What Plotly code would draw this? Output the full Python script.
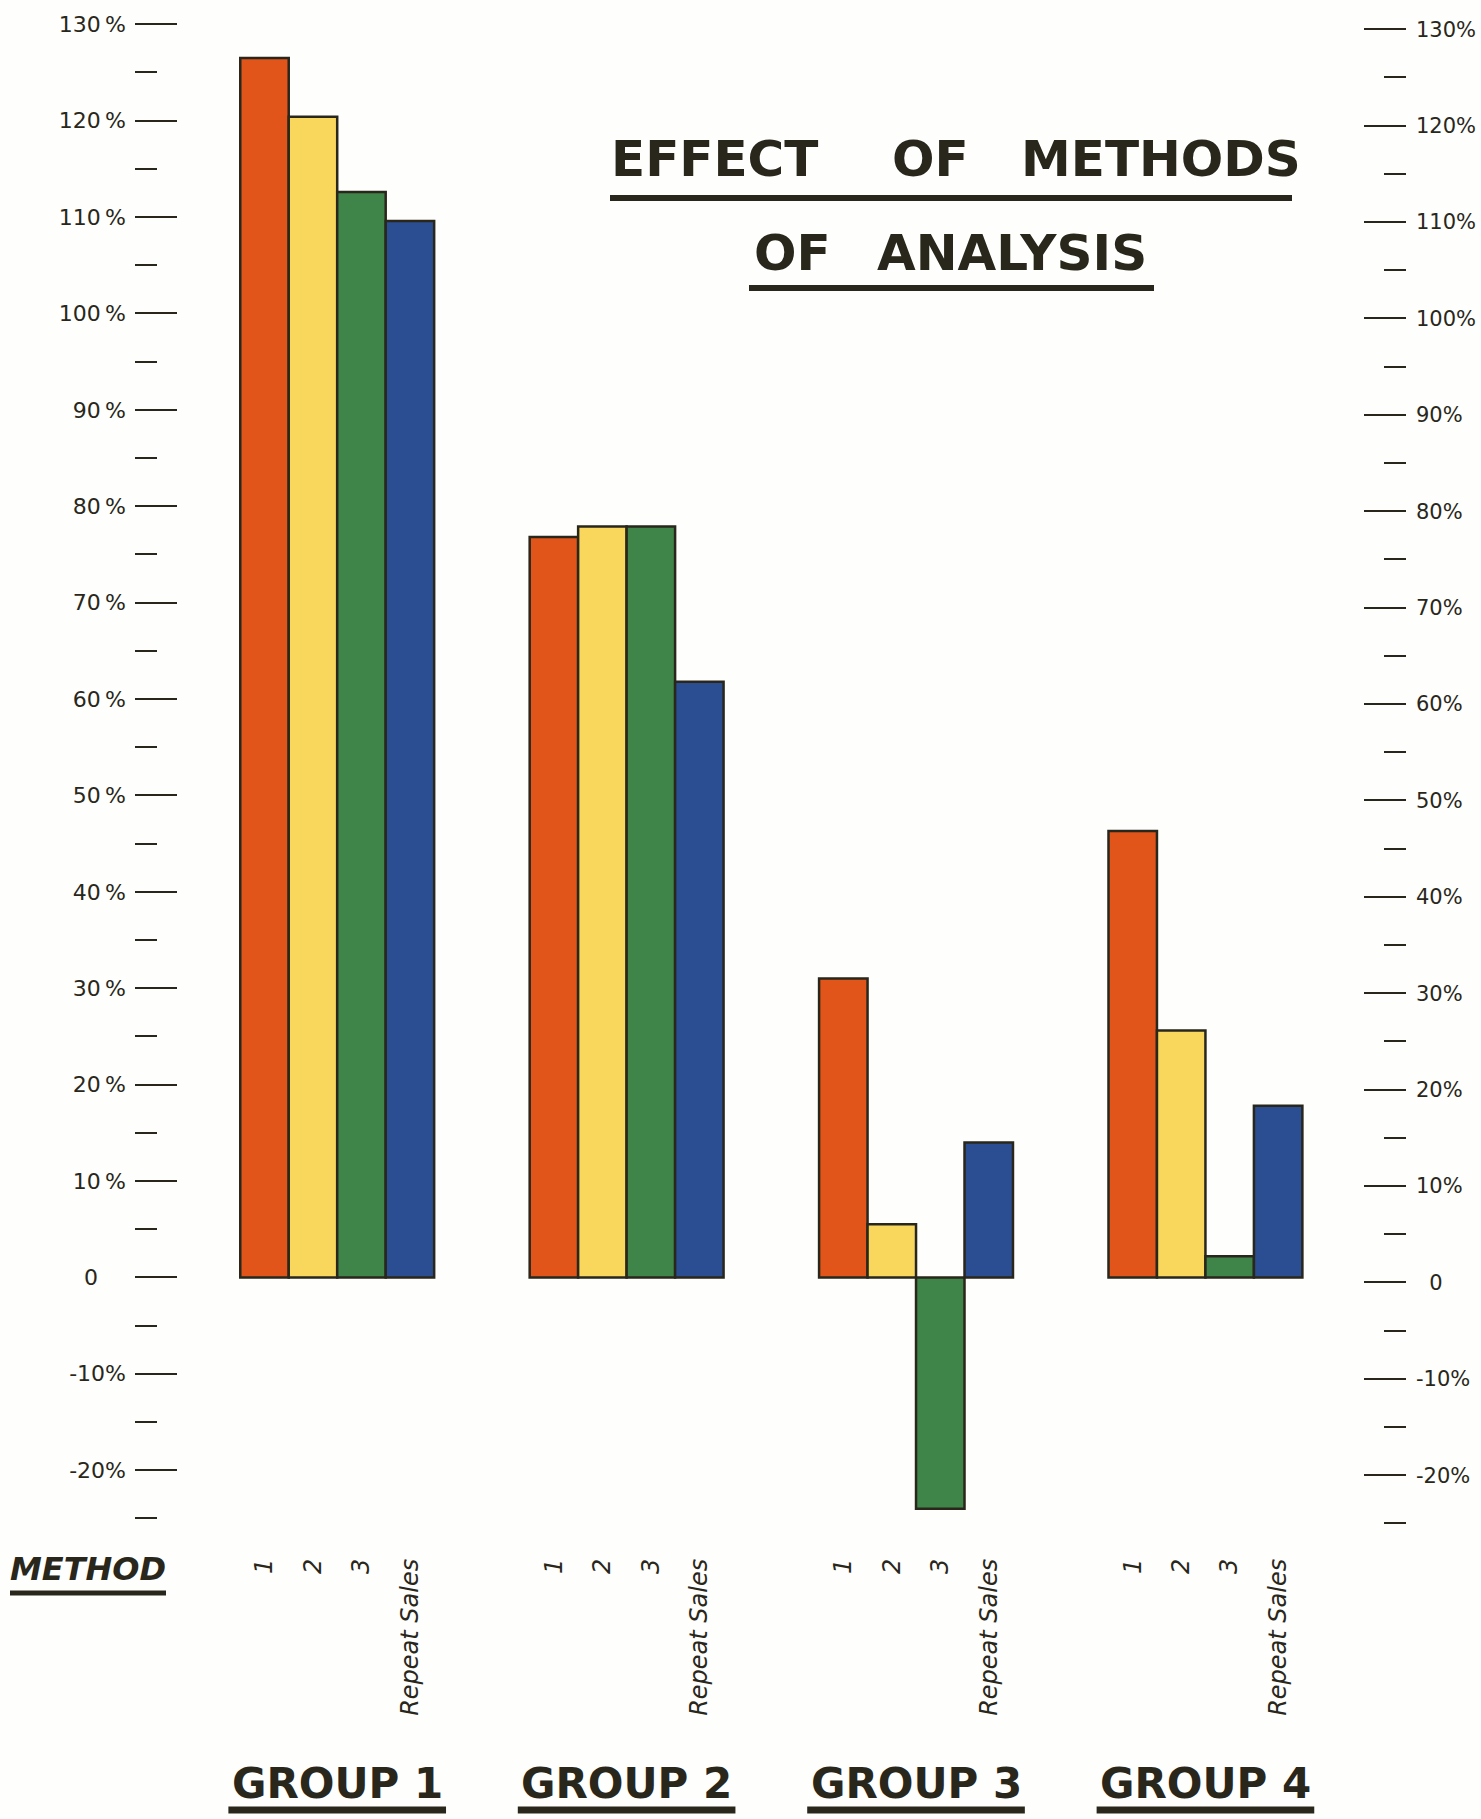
import plotly.graph_objects as go

# ---------------- data ----------------
groups = ["GROUP 1", "GROUP 2", "GROUP 3", "GROUP 4"]
methods = ["1", "2", "3", "Repeat Sales"]
method_1 = [126.5, 76.8, 31.0, 46.3]
method_2 = [120.4, 77.9, 5.5, 25.6]
method_3 = [112.6, 77.9, -24.0, 2.2]
repeat_sales = [109.6, 61.8, 14.0, 17.8]
series = [method_1, method_2, method_3, repeat_sales]
colors = ["#e1541a", "#f8d75c", "#3f8549", "#2b4e93"]

major_ticks = [-20, -10, 0, 10, 20, 30, 40, 50, 60, 70, 80, 90, 100, 110, 120, 130]
left_labels = ["-20%", "-10%", "0\u00a0\u00a0\u00a0\u00a0", "10\u2009%", "20\u2009%", "30\u2009%", "40\u2009%",
               "50\u2009%", "60\u2009%", "70\u2009%", "80\u2009%", "90\u2009%", "100\u2009%",
               "110\u2009%", "120\u2009%", "130\u2009%"]
right_labels = ["-20%", "-10%", "\u00a0\u00a00", "10%", "20%", "30%", "40%", "50%", "60%",
                "70%", "80%", "90%", "100%", "110%", "120%", "130%"]

# ---------------- layout constants ----------------
W, H = 1481, 1819
L, R, T, B = 135, 75, 5, 291
PW, PH = W - L - R, H - T - B
INK = "#29271b"
BG = "#fefefc"
BARGAP = 0.33
FONT = "DejaVu Sans, Verdana, sans-serif"

def xp(px):
    return (px - L) / PW

def yp(py):
    return (H - B - py) / PH

xs = list(range(len(groups)))
bw = (1 - BARGAP) / len(series)
tick_x = [i - (1 - BARGAP) / 2 + bw * (k + 0.5) for i in xs for k in range(len(series))]
tick_t = [methods[k] for i in xs for k in range(len(series))]

fig = go.Figure()
for k, vals in enumerate(series):
    fig.add_trace(go.Bar(
        x=xs, y=vals, name=methods[k],
        marker=dict(color=colors[k], line=dict(color=INK, width=2.5)),
        showlegend=False, hoverinfo="skip"))

# invisible helper trace so the right axis is drawn
fig.add_trace(go.Scatter(x=[0], y=[0], yaxis="y2", mode="markers",
                         marker=dict(opacity=0), showlegend=False, hoverinfo="skip"))

def tickstyle(size):
    return dict(ticks="inside", ticklen=42, tickwidth=2, tickcolor=INK,
                minor=dict(dtick=5, tick0=0, ticks="inside", ticklen=22, tickwidth=2, tickcolor=INK),
                showgrid=False, zeroline=False, showline=False,
                tickmode="array", tickvals=major_ticks,
                tickfont=dict(family=FONT, size=size, color=INK), automargin=False)

fig.update_layout(
    width=W, height=H,
    margin=dict(l=L, r=R, t=T, b=B),
    paper_bgcolor=BG, plot_bgcolor=BG,
    barmode="group", bargap=BARGAP, bargroupgap=0,
    xaxis=dict(range=[-0.6987, 3.693], tickmode="array", tickvals=tick_x, ticktext=tick_t,
               tickangle=-90, ticks="", showgrid=False, zeroline=False, showline=False,
               tickfont=dict(family=FONT, size=24, color=INK, style="italic"),
               ticklabelstandoff=25, automargin=False),
    yaxis=dict(range=[-26, 132], ticktext=left_labels, side="left",
               ticklabelstandoff=8, **tickstyle(22)),
    yaxis2=dict(range=[-25.48, 132.52], ticktext=right_labels, side="right",
                overlaying="y", ticklabelstandoff=9, **tickstyle(21)),
)

ann = []
def text(s, px, py, size, italic=False):
    t = "<b>" + s + "</b>"
    if italic:
        t = "<i>" + t + "</i>"
    ann.append(dict(text=t, x=xp(px), y=yp(py), xref="paper", yref="paper",
                    xanchor="center", yanchor="middle", showarrow=False,
                    font=dict(family=FONT, size=size, color=INK)))

# title words
text("EFFECT", 714, 159, 50)
text("OF", 930, 159, 50)
text("METHODS", 1161, 159, 50)
text("OF", 792, 253, 50)
text("ANALYSIS", 1012, 253, 50)
text("METHOD", 88, 1569, 32, italic=True)

for i, g in enumerate(groups):
    ann.append(dict(text="<b>" + g + "</b>", x=xs[i], y=yp(1783), xref="x", yref="paper",
                    xanchor="center", yanchor="middle", showarrow=False,
                    font=dict(family=FONT, size=42, color=INK)))

shapes = []
def uline(x0, x1, py, w):
    shapes.append(dict(type="line", xref="paper", yref="paper", x0=xp(x0), x1=xp(x1),
                       y0=yp(py), y1=yp(py), line=dict(color=INK, width=w)))

uline(610, 1292, 198, 6)
uline(749, 1154, 288, 6)
uline(10, 166, 1593, 5)
for i in xs:
    shapes.append(dict(type="line", xref="x", yref="paper", x0=xs[i] - 0.376, x1=xs[i] + 0.376,
                       y0=yp(1810), y1=yp(1810), line=dict(color=INK, width=7)))

fig.update_layout(annotations=ann, shapes=shapes)
fig.write_html("out.html")
